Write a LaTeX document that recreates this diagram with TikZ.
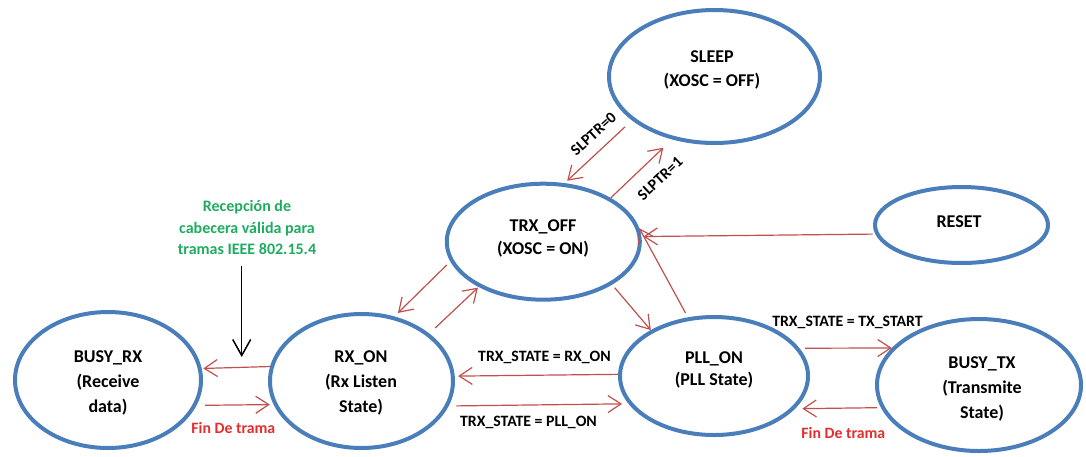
\documentclass[tikz,border=0pt]{standalone}
\usepackage{fontspec}
\setmainfont{Carlito}
\usetikzlibrary{arrows.meta,shapes.geometric}

\definecolor{ringblue}{RGB}{74,126,186}
\definecolor{edgered}{RGB}{192,80,77}
\definecolor{finred}{RGB}{228,45,45}
\definecolor{notegreen}{RGB}{30,172,95}

\begin{document}
\begin{tikzpicture}[x=1pt,y=-1pt,
  state/.style={ellipse,draw=ringblue,line width=4pt,fill=white,inner sep=0pt},
  stxt/.style={align=center,font=\fontsize{18}{25}\selectfont\bfseries},
  stxttwo/.style={align=center,font=\fontsize{18}{23.5}\selectfont\bfseries},
  trans/.style={draw=edgered,line width=1.2pt,-{Straight Barb[length=13pt,width=17pt]}},
  elabel/.style={font=\fontsize{15.8}{18}\selectfont\bfseries,inner sep=0pt},
  finlabel/.style={elabel,text=finred},
  notetxt/.style={align=center,font=\fontsize{16}{21.3}\selectfont\bfseries,text=notegreen,inner sep=0pt},
  pointer/.style={draw=black,line width=1.5pt,-{Straight Barb[length=16pt,width=18pt]}}
]
\useasboundingbox (0,0) rectangle (1086,456);

% states
\node[state,minimum width=211pt,minimum height=133pt] (sleep)  at (714.5,76.5) {};
\node[state,minimum width=193pt,minimum height=116pt] (trxoff) at (543.3,241.7) {};
\node[state,minimum width=173pt,minimum height=76pt]  (reset)  at (961.5,225) {};
\node[state,minimum width=186pt,minimum height=136pt] (busyrx) at (108,380) {};
\node[state,minimum width=183pt,minimum height=134pt] (rxon)   at (361.5,381) {};
\node[state,minimum width=188pt,minimum height=118pt] (pllon)  at (714,376) {};
\node[state,minimum width=204pt,minimum height=132pt] (busytx) at (979,385) {};

% state names
\node[stxttwo] (sleepT)  at (712,70)    {SLEEP\\(XOSC = OFF)};
\node[stxttwo] (trxoffT) at (543,238.5) {TRX\_OFF\\(XOSC = ON)};
\node[stxt]    (resetT)  at (959,221.7) {RESET};
\node[stxt]    (busyrxT) at (108,383)   {BUSY\_RX\\(Receive\\data)};
\node[stxt]    (rxonT)   at (361,383)   {RX\_ON\\(Rx Listen\\State)};
\node[stxttwo,font=\fontsize{18}{22}\selectfont\bfseries] (pllonT) at (714,370) {PLL\_ON\\(PLL State)};
\node[stxt]    (busytxT) at (982,389)   {BUSY\_TX\\(Transmite\\State)};

% transitions
\draw[trans,shorten <=9.5pt,shorten >=3.5pt] (sleep.208) -- (trxoff.70);
\draw[trans,shorten >=12pt] (trxoff.33) -- (sleep.236);
\draw[trans,shorten <=2.8pt,shorten >=2pt] (reset.186.66) -- (trxoff.3.92);
\draw[trans,shorten <=5pt] (pllon.114) -- (trxoff.8);
\draw[trans,shorten <=4pt] (trxoff.328) -- (pllon.144);
\draw[trans,shorten <=8pt,shorten >=1pt] (rxon.35) -- (trxoff.215);
\draw[trans,shorten <=5pt,shorten >=5pt] (trxoff.192.6) -- (rxon.63);
\draw[trans,shorten >=3.4pt] (pllon.179.4) -- (rxon.3.7);
\draw[trans,shorten <=7.8pt,shorten >=6.5pt] (rxon.344.7) -- (pllon.198.9);
\draw[trans,shorten <=5.7pt] (pllon.18.2) -- (busytx.157);
\draw[trans,shorten <=4pt,shorten >=7.3pt] (busytx.193.2) -- (pllon.338.6);
\draw[trans,shorten >=1.6pt] (rxon.171.3) -- (busyrx.7.93);
\draw[trans,shorten <=8.3pt,shorten >=3.8pt] (busyrx.344.3) -- (rxon.195.3);

% transition labels
\node[elabel,rotate=42] (slp0) at (593.5,134) {SLPTR=0};
\node[elabel,rotate=43] (slp1) at (660,178.5) {SLPTR=1};
\node[elabel,anchor=base] (toRx)  at (544.5,361.7) {TRX\_STATE = RX\_ON};
\node[elabel,anchor=base] (toPll) at (528.5,426.7) {TRX\_STATE = PLL\_ON};
\node[elabel,anchor=base] (toTx)  at (847.5,326.7) {TRX\_STATE = TX\_START};
\node[finlabel,anchor=base] (finTx) at (843.3,438)  {Fin De trama};
\node[finlabel,anchor=base] (finRx) at (233.3,433.5) {Fin De trama};

% header reception note
\node[notetxt] (hdrNote) at (247,227.5) {Recepción de\\cabecera válida para\\tramas IEEE 802.15.4};
\coordinate (hdrTip) at (241.7,357);
\draw[pointer,shorten <=11pt] (hdrNote.south -| hdrTip) -- (hdrTip);
\end{tikzpicture}
\end{document}
